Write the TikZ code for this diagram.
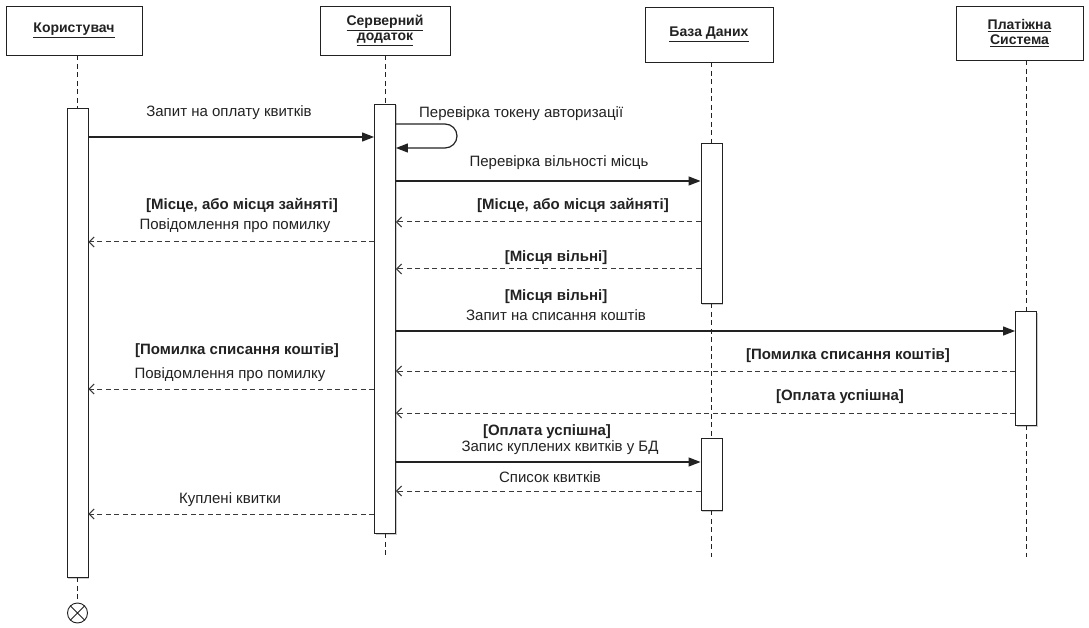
\documentclass[tikz,border=0pt]{standalone}
\usepackage{fontspec}
\setmainfont{Liberation Sans}
\usetikzlibrary{arrows.meta,shadows}
\definecolor{ink}{HTML}{222222}
\definecolor{inkret}{HTML}{3A3A3A}
\begin{document}
\begin{tikzpicture}[x=1pt,y=-1pt,
  shadowed/.style={drop shadow={shadow xshift=1.2pt,shadow yshift=-1.5pt,fill=black!45,opacity=0.45}},
  head/.style={draw=ink,line width=0.9pt,fill=white,shadowed,align=center,inner sep=0pt,
    font=\fontsize{14}{16}\selectfont\bfseries,text=ink},
  actbar/.style={draw=ink,line width=0.9pt,fill=white,shadowed,minimum width=21pt,inner sep=0pt},
  life/.style={draw=ink,line width=0.8pt,dash pattern=on 5pt off 3.5pt},
  sync/.style={draw=ink,line width=1.2pt,-{Triangle[length=12pt,width=9pt]}},
  ret/.style={draw=inkret,line width=1pt,dash pattern=on 5pt off 3.5pt,-{Straight Barb[length=5pt,width=10pt,line width=1pt]}},
  lbl/.style={inner sep=0pt,text=ink,font=\fontsize{15}{17}\selectfont},
  lblb/.style={inner sep=0pt,text=ink,font=\fontsize{15}{17}\selectfont\bfseries},
]
\useasboundingbox (0,0) rectangle (1089,628);
\fill[white] (0,0) rectangle (1089,628);

% header boxes
\node[head,minimum width=136pt,minimum height=49pt] (u) at (74,30.5) {\underline{Користувач}};
\node[head,minimum width=130pt,minimum height=49pt] (s) at (385,30.5) {\underline{Серверний}\\[-1pt]\underline{додаток}};
\node[head,minimum width=128pt,minimum height=55pt] (d) at (709,34.5) {\underline{База Даних}};
\node[head,minimum width=127pt,minimum height=54pt] (p) at (1019.5,33) {\underline{Платіжна}\\[-1pt]\underline{Система}};

% activation bars
\node[actbar,minimum height=469pt] (ua) at (77.5,342.5) {};
\node[actbar,minimum height=429pt] (sa) at (385,318.5) {};
\node[actbar,minimum height=160pt] (da1) at (711.5,223) {};
\node[actbar,minimum height=72pt] (da2) at (711.5,474) {};
\node[actbar,minimum height=114pt] (pa) at (1026,368) {};

% end marker
\node[draw=ink,line width=0.9pt,circle,minimum size=20pt,inner sep=0pt] (e) at (77.5,613) {};
\draw[ink,line width=0.9pt] (e.45) -- (e.225) (e.135) -- (e.-45);

% lifeline end points
\coordinate (sEnd) at (385,557);
\coordinate (dEnd) at (711.5,557);
\coordinate (pEnd) at (1026,557);

% lifelines
\draw[life] (u.south -| ua.north) -- (ua.north);
\draw[life] (ua.south) -- (e.north);
\draw[life] (s.south -| sa.north) -- (sa.north);
\draw[life] (sa.south) -- (sEnd);
\draw[life] (d.south -| da1.north) -- (da1.north);
\draw[life] (da1.south) -- (da2.north);
\draw[life] (da2.south) -- (dEnd);
\draw[life] (p.south -| pa.north) -- (pa.north);
\draw[life] (pa.south) -- (pEnd);

% 1 request
\node[lbl] (l1) at (229,113) {Запит на оплату квитків};
\draw[sync] (ua.east |- 0,137) -- (sa.west |- 0,137);

% 2 self call
\node[lbl,anchor=west] (l2) at (419,114) {Перевірка токену авторизації};
\draw[sync] (sa.east |- 0,124) -- (445,124) arc[start angle=-90,end angle=90,radius=12] -- (sa.east |- 0,148);

% 3 check seats
\node[lbl] (l3) at (559,163) {Перевірка вільності місць};
\draw[sync] (sa.east |- 0,181) -- (da1.west |- 0,181);

% 4 seats taken (DB -> server)
\node[lblb] (l4) at (573,205) {[Місце, або місця зайняті]};
\draw[ret] (da1.west |- 0,222) -- (sa.east |- 0,222);

% 5 seats free (DB -> server)
\node[lblb] (l5) at (556,258) {[Місця вільні]};
\draw[ret] (da1.west |- 0,269) -- (sa.east |- 0,269);

% 6 error to user
\node[lblb] (l6a) at (242,205) {[Місце, або місця зайняті]};
\node[lbl] (l6b) at (235,226) {Повідомлення про помилку};
\draw[ret] (sa.west |- 0,242) -- (ua.east |- 0,242);

% 7 charge request
\node[lblb] (l7a) at (556,297) {[Місця вільні]};
\node[lbl] (l7b) at (556,315) {Запит на списання коштів};
\draw[sync] (sa.east |- 0,331) -- (pa.west |- 0,331);

% 8 charge error to user
\node[lblb] (l8a) at (237,351) {[Помилка списання коштів]};
\node[lbl] (l8b) at (230,375) {Повідомлення про помилку};
\draw[ret] (sa.west |- 0,389) -- (ua.east |- 0,389);

% 9 charge error (payment -> server)
\node[lblb] (l9) at (848,356) {[Помилка списання коштів]};
\draw[ret] (pa.west |- 0,371) -- (sa.east |- 0,371);

% 10 payment ok
\node[lblb] (l10) at (840,397) {[Оплата успішна]};
\draw[ret] (pa.west |- 0,413) -- (sa.east |- 0,413);

% 11 store tickets
\node[lblb] (l11a) at (547,432) {[Оплата успішна]};
\node[lbl] (l11b) at (560,448) {Запис куплених квитків у БД};
\draw[sync] (sa.east |- 0,462) -- (da2.west |- 0,462);

% 12 ticket list
\node[lbl] (l12) at (550,477) {Список квитків};
\draw[ret] (da2.west |- 0,491) -- (sa.east |- 0,491);

% 13 bought tickets
\node[lbl] (l13) at (230,500) {Куплені квитки};
\draw[ret] (sa.west |- 0,514) -- (ua.east |- 0,514);
\end{tikzpicture}
\end{document}
